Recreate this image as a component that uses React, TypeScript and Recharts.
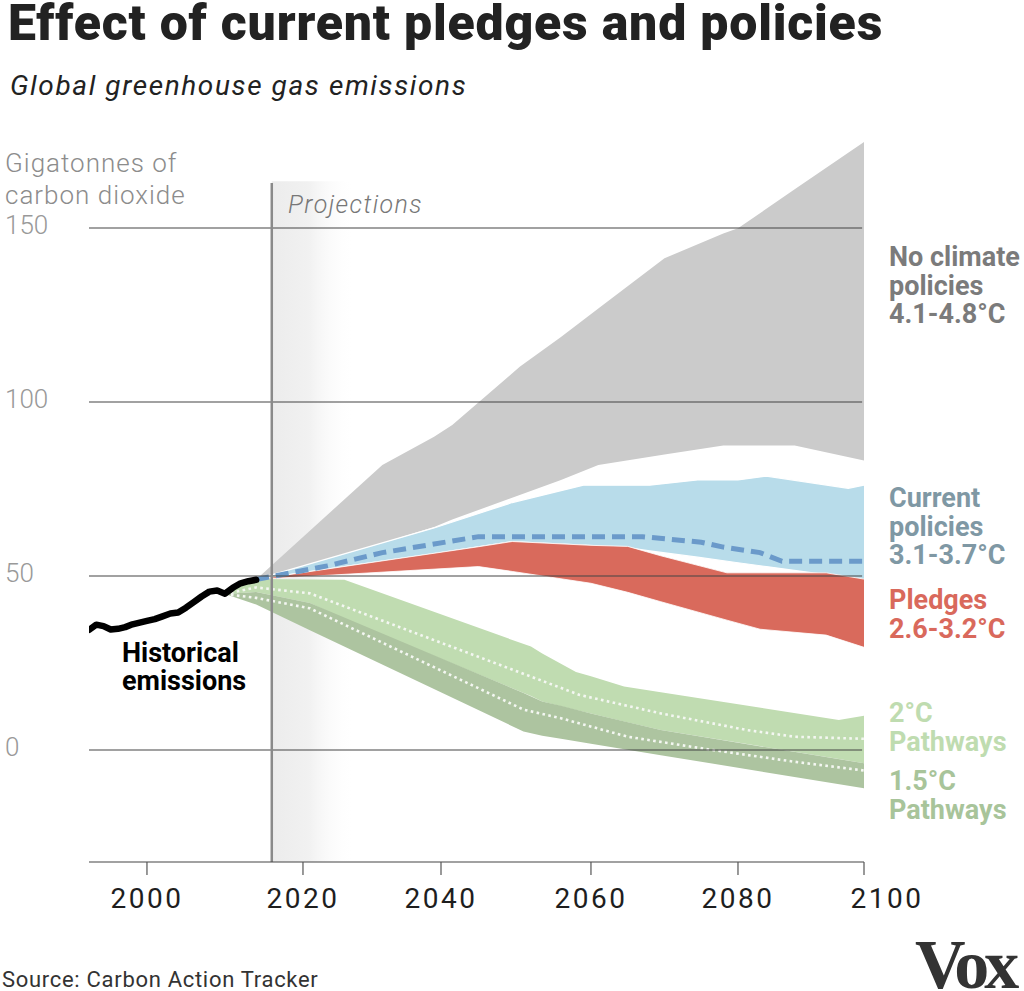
import React from 'react';
import { ComposedChart, Area, Line, XAxis, YAxis, ReferenceLine, ReferenceArea } from 'recharts';

// ---------- data (GtCO2e) ----------
const histYears = [1992, 1993, 1994, 1995, 1996, 1997, 1998, 1999, 2000, 2001, 2002, 2003, 2004, 2005, 2006, 2007, 2008, 2009, 2010, 2011, 2012, 2013, 2014];
const histValues = [34.5, 36.0, 35.6, 34.6, 34.8, 35.3, 36.1, 36.6, 37.1, 37.6, 38.4, 39.2, 39.5, 40.9, 42.5, 44.1, 45.5, 45.8, 44.9, 46.6, 47.9, 48.5, 48.9];

const noPolicyYears = [2014, 2031.5, 2039, 2041.5, 2050.5, 2056, 2061, 2070, 2078, 2080, 2089, 2100];
const noPolicyLow = [49, 59.5, 64.1, 66.2, 73.3, 77.6, 81.9, 84.9, 87.5, 87.5, 87.5, 83.2];
const noPolicyHigh = [49, 81.9, 90.0, 93.4, 110.1, 118.7, 126.9, 141.3, 148.4, 149.9, 161.1, 174.7];

const currentYears = [2014, 2039, 2049.5, 2059, 2064.5, 2068, 2074.5, 2080, 2084.5, 2097.5, 2100];
const currentLow = [49, 56.4, 59.9, 58.9, 58.3, 57.2, 55.4, 53.8, 52.7, 49.5, 48.9];
const currentHigh = [49, 63.8, 71.1, 76.1, 76.1, 76.1, 77.6, 77.6, 78.7, 75.2, 76.1];

const currentMidYears = [2014, 2023.5, 2031.5, 2045, 2067, 2075, 2078, 2083.5, 2087, 2100];
const currentMid = [49, 52.9, 56.7, 61.3, 61.3, 59.7, 58.3, 56.7, 54.2, 54.2];

const pledgeYears = [2014, 2045, 2049.5, 2060, 2065, 2069.5, 2078.5, 2083.5, 2094, 2100];
const pledgeLow = [49, 52.7, 51.3, 47.9, 45.3, 42.6, 37.3, 34.7, 33.0, 29.5];
const pledgeHigh = [49, 58.4, 59.9, 58.8, 58.5, 55.8, 50.9, 50.9, 50.9, 49.1];

const twoDegYears = [2010, 2014, 2021, 2026, 2052, 2053.5, 2058, 2060, 2064.5, 2069.5, 2096, 2100];
const twoDegLow = [44.8, 45.4, 42.2, 37.6, 15.5, 13.9, 11.5, 10.5, 8.2, 5.7, -2.6, -3.8];
const twoDegHigh = [44.8, 49.1, 49.0, 48.9, 29.7, 27.7, 22.4, 21.2, 18.2, 16.6, 8.6, 9.8];

const twoDegMidYears = [2010, 2014, 2021, 2058.5, 2069.5, 2081.5, 2089, 2100];
const twoDegMid = [44.8, 46.7, 45.0, 15.8, 10.5, 5.7, 3.8, 3.2];

const onePointFiveYears = [2010, 2014, 2021, 2051, 2053.5, 2056, 2060, 2069.5, 2100];
const onePointFiveLow = [44.8, 41.8, 34.4, 5.3, 4.1, 3.2, 1.8, -1.5, -11.0];
const onePointFiveHigh = [44.8, 45.4, 42.2, 16.4, 13.9, 12.7, 10.5, 5.7, -3.8];

const onePointFiveMidYears = [2010, 2014, 2021, 2051, 2056, 2065, 2076.5, 2089, 2100];
const onePointFiveMid = [44.8, 43.7, 40.7, 11.6, 9.1, 3.8, 0.0, -3.4, -5.9];

const xTicks = [2000, 2020, 2040, 2060, 2080, 2100];
const yTicks = [0, 50, 100, 150];
const projectionStartYear = 2016;

// The original's year axis is drawn with uneven tick spacing; this scale
// reproduces it (piecewise between the labelled years).
const AXIS_BREAK_YEARS = [1992, 2000, 2020, 2040, 2060, 2080, 2100];
const AXIS_BREAK_POS = [0, 0.0748, 0.2761, 0.4542, 0.6477, 0.8374, 1];

function makeYearScale(): any {
  let dom: number[] = [AXIS_BREAK_YEARS[0], AXIS_BREAK_YEARS[AXIS_BREAK_YEARS.length - 1]];
  let rng: number[] = [0, 1];
  const frac = (v: number) => {
    const ys = AXIS_BREAK_YEARS;
    const ps = AXIS_BREAK_POS;
    let i = 0;
    while (i < ys.length - 2 && v > ys[i + 1]) i++;
    return ps[i] + ((v - ys[i]) / (ys[i + 1] - ys[i])) * (ps[i + 1] - ps[i]);
  };
  const unfrac = (f: number) => {
    const ys = AXIS_BREAK_YEARS;
    const ps = AXIS_BREAK_POS;
    let i = 0;
    while (i < ps.length - 2 && f > ps[i + 1]) i++;
    return ys[i] + ((f - ps[i]) / (ps[i + 1] - ps[i])) * (ys[i + 1] - ys[i]);
  };
  const scale: any = (v: any) => rng[0] + (rng[1] - rng[0]) * frac(Number(v));
  scale.domain = (d?: any[]) => {
    if (d === undefined) return dom.slice();
    dom = d.map(Number);
    return scale;
  };
  scale.range = (r?: any[]) => {
    if (r === undefined) return rng.slice();
    rng = r.map(Number);
    return scale;
  };
  scale.copy = () => makeYearScale().domain(dom).range(rng);
  scale.ticks = () => AXIS_BREAK_YEARS.slice(1);
  scale.tickFormat = () => (v: any) => String(v);
  scale.invert = (px: number) => unfrac((px - rng[0]) / (rng[1] - rng[0]));
  scale.nice = () => scale;
  scale.clamp = () => scale;
  return scale;
}
const yearScale = makeYearScale();

// ---------- build one table keyed by year ----------
type Row = { year: number; [k: string]: any };
const rows = new Map<number, Row>();
const put = (year: number, key: string, value: any) => {
  if (!rows.has(year)) rows.set(year, { year });
  (rows.get(year) as Row)[key] = value;
};
histYears.forEach((y, i) => put(y, 'hist', histValues[i]));
noPolicyYears.forEach((y, i) => put(y, 'noPolicy', [noPolicyLow[i], noPolicyHigh[i]]));
currentYears.forEach((y, i) => put(y, 'current', [currentLow[i], currentHigh[i]]));
currentMidYears.forEach((y, i) => put(y, 'currentMid', currentMid[i]));
pledgeYears.forEach((y, i) => put(y, 'pledge', [pledgeLow[i], pledgeHigh[i]]));
twoDegYears.forEach((y, i) => put(y, 'twoDeg', [twoDegLow[i], twoDegHigh[i]]));
twoDegMidYears.forEach((y, i) => put(y, 'twoDegMid', twoDegMid[i]));
onePointFiveYears.forEach((y, i) => put(y, 'onePointFive', [onePointFiveLow[i], onePointFiveHigh[i]]));
onePointFiveMidYears.forEach((y, i) => put(y, 'onePointFiveMid', onePointFiveMid[i]));
const data = Array.from(rows.values()).sort((a, b) => a.year - b.year);

const SANS = 'Roboto, "Open Sans", "DejaVu Sans", sans-serif';

const XTick = (props: any) => {
  const { x, y, payload } = props;
  const shift = payload.value === 2100 ? 23 : 0;
  return (
    <text x={x + shift} y={y + 31} textAnchor="middle" fontFamily={SANS} fontSize={28} letterSpacing={2.5} fill="#1e1e1e">
      {payload.value}
    </text>
  );
};

const YTick = (props: any) => {
  const { y, payload } = props;
  return (
    <text x={5} y={y + 6} textAnchor="start" fontFamily={SANS} fontWeight={300} fontSize={26} fill="#999">
      {payload.value}
    </text>
  );
};

const rightLabels = [
  { lines: ['No climate', 'policies', '4.1-4.8°C'], y: 266, color: '#7b7b7b' },
  { lines: ['Current', 'policies', '3.1-3.7°C'], y: 507, color: '#7f98a4' },
  { lines: ['Pledges', '2.6-3.2°C'], y: 609, color: '#d9695c' },
  { lines: ['2°C', 'Pathways'], y: 722, color: '#bfdcb0' },
  { lines: ['1.5°C', 'Pathways'], y: 790, color: '#a8c49a' },
];

const MultiLine = ({ x, y, lines, step, ...rest }: any) => (
  <text x={x} y={y} {...rest}>
    {lines.map((line: string, i: number) => (
      <tspan key={i} x={x} y={y + i * step}>
        {line}
      </tspan>
    ))}
  </text>
);

export default function App() {
  return (
    <div style={{ position: 'absolute', left: 0, top: 0, width: 1024, height: 991, background: '#fff' }}>
      <ComposedChart
        width={1024}
        height={991}
        data={data}
        margin={{ top: 141, right: 160, bottom: 69, left: 5 }}
      >
        <defs>
          <linearGradient id="projGrad" x1="0" y1="0" x2="1" y2="0">
            <stop offset="0" stopColor="#ececec" stopOpacity={1} />
            <stop offset="0.45" stopColor="#f1f1f1" stopOpacity={1} />
            <stop offset="1" stopColor="#ffffff" stopOpacity={0} />
          </linearGradient>
        </defs>
        <XAxis
          dataKey="year"
          type="number"
          scale={yearScale}
          domain={[1992, 2100]}
          allowDataOverflow
          ticks={xTicks}
          interval={0}
          height={60}
          tickSize={13}
          axisLine={{ stroke: '#444', strokeWidth: 1.2 }}
          tickLine={{ stroke: '#555', strokeWidth: 1.2 }}
          tick={<XTick />}
        />
        <YAxis
          type="number"
          domain={[-32.2, 175]}
          allowDataOverflow
          ticks={yTicks}
          interval={0}
          width={84}
          axisLine={false}
          tickLine={false}
          tick={<YTick />}
        />
        <ReferenceArea
          x1={projectionStartYear}
          x2={2027.5}
          y1={-32.2}
          y2={163.4}
          fill="url(#projGrad)"
          fillOpacity={1}
          stroke="none"
          zIndex={-10}
        />
        <Area dataKey="noPolicy" type="linear" fill="#cbcbcb" fillOpacity={1} stroke="none" connectNulls dot={false} activeDot={false} isAnimationActive={false} zIndex={101} />
        <Area dataKey="current" type="linear" fill="#b8dcea" fillOpacity={1} stroke="#ffffff" strokeWidth={1.2} connectNulls dot={false} activeDot={false} isAnimationActive={false} zIndex={102} />
        <Area dataKey="pledge" type="linear" fill="#d96a5c" fillOpacity={1} stroke="#ffffff" strokeWidth={0.8} connectNulls dot={false} activeDot={false} isAnimationActive={false} zIndex={103} />
        <Area dataKey="twoDeg" type="linear" fill="#c0dcb1" fillOpacity={1} stroke="none" connectNulls dot={false} activeDot={false} isAnimationActive={false} zIndex={104} />
        <Area dataKey="onePointFive" type="linear" fill="#adc4a0" fillOpacity={1} stroke="none" connectNulls dot={false} activeDot={false} isAnimationActive={false} zIndex={105} />
        <Line dataKey="twoDegMid" type="linear" stroke="#f4f7f2" strokeWidth={2.6} strokeDasharray="2.6 3.4" connectNulls dot={false} activeDot={false} isAnimationActive={false} zIndex={401} />
        <Line dataKey="onePointFiveMid" type="linear" stroke="#f4f7f2" strokeWidth={2.6} strokeDasharray="2.6 3.4" connectNulls dot={false} activeDot={false} isAnimationActive={false} zIndex={402} />
        <Line dataKey="currentMid" type="linear" stroke="#6b9aca" strokeWidth={5} strokeDasharray="13 7" connectNulls dot={false} activeDot={false} isAnimationActive={false} zIndex={403} />
        {yTicks.map((v) => (
          <ReferenceLine
            key={v}
            segment={[{ x: 1992, y: v }, { x: 2099.7, y: v }]}
            stroke="#444"
            strokeWidth={1.1}
            zIndex={450}
          />
        ))}
        <ReferenceLine
          segment={[{ x: projectionStartYear, y: -32.2 }, { x: projectionStartYear, y: 162.9 }]}
          stroke="#8a8a8a"
          strokeWidth={2.5}
          zIndex={460}
        />
        <Line dataKey="hist" type="linear" stroke="#000" strokeWidth={6.5} strokeLinecap="round" strokeLinejoin="round" connectNulls dot={false} activeDot={false} isAnimationActive={false} zIndex={470} />
      </ComposedChart>
      <svg
        width={1024}
        height={991}
        style={{ position: 'absolute', left: 0, top: 0, pointerEvents: 'none' }}
      >
        <text x={8} y={40} fontFamily={SANS} fontWeight={900} fontSize={50} letterSpacing={0.8} fill="#222">
          Effect of current pledges and policies
        </text>
        <text x={10} y={95} fontFamily={SANS} fontStyle="italic" fontSize={28} letterSpacing={1.6} fill="#222">
          Global greenhouse gas emissions
        </text>
        <MultiLine x={5} y={172} step={32} lines={['Gigatonnes of', 'carbon dioxide']} fontFamily={SANS} fontWeight={300} fontSize={26} letterSpacing={1} fill="#8c8c8c" />
        <text x={288} y={213} fontFamily={SANS} fontStyle="italic" fontWeight={300} fontSize={25} letterSpacing={1.4} fill="#777">
          Projections
        </text>
        <MultiLine x={122} y={662} step={28} lines={['Historical', 'emissions']} fontFamily={SANS} fontWeight={700} fontSize={27} fill="#000" />
        {rightLabels.map((lab) => (
          <MultiLine key={lab.lines[0]} x={889} y={lab.y} step={28.5} lines={lab.lines} fontFamily={SANS} fontWeight={700} fontSize={27} fill={lab.color} />
        ))}
        <text x={2} y={987} fontFamily={SANS} fontSize={22} letterSpacing={0.7} fill="#333">
          Source: Carbon Action Tracker
        </text>
        <text x={915} y={988} fontFamily='"Liberation Serif", "DejaVu Serif", serif' fontWeight={700} fontSize={70} letterSpacing={-5} fill="#333">
          Vox
        </text>
      </svg>
    </div>
  );
}
